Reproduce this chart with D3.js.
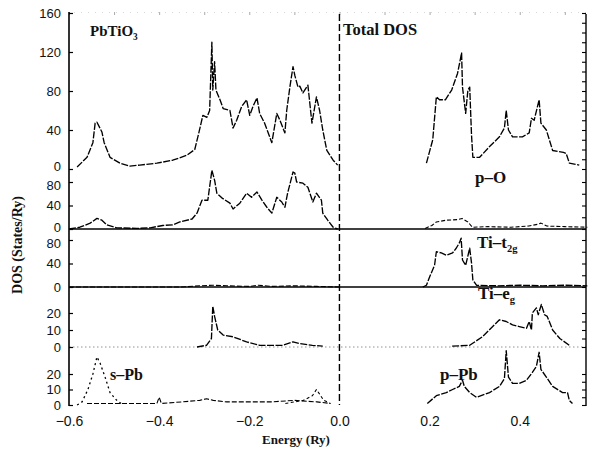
<!DOCTYPE html>
<html><head><meta charset="utf-8">
<script src="https://cdn.jsdelivr.net/npm/d3@7"></script>
<style>body{margin:0;background:#fff}</style>
</head><body>
<svg id="c" width="590" height="450"></svg>
<script>
// ---- data: [energy (Ry), DOS (States/Ry)] ----
const totalValence = [[-0.582,2],[-0.560,12],[-0.547,27],[-0.542,47],[-0.538,48],[-0.527,38],[-0.522,27],[-0.509,12],[-0.487,6],[-0.465,3],[-0.443,4],[-0.405,6],[-0.370,9],[-0.339,14],[-0.321,20],[-0.312,37],[-0.303,55],[-0.294,53],[-0.288,60],[-0.283,130],[-0.281,81],[-0.277,110],[-0.274,81],[-0.265,71],[-0.258,62],[-0.243,60],[-0.236,42],[-0.228,50],[-0.217,64],[-0.206,71],[-0.199,55],[-0.192,64],[-0.183,73],[-0.177,57],[-0.166,47],[-0.150,27],[-0.139,57],[-0.132,50],[-0.121,37],[-0.117,60],[-0.110,84],[-0.103,105],[-0.099,96],[-0.092,84],[-0.088,85],[-0.081,78],[-0.070,86],[-0.061,47],[-0.051,74],[-0.044,60],[-0.037,40],[-0.028,19],[-0.014,9],[-0.004,4]];
const totalConduction = [[0.193,6],[0.207,30],[0.215,74],[0.222,71],[0.235,71],[0.249,81],[0.262,98],[0.271,119],[0.273,84],[0.280,57],[0.285,81],[0.289,84],[0.293,35],[0.296,12],[0.311,12],[0.333,23],[0.355,33],[0.366,42],[0.370,60],[0.375,40],[0.384,33],[0.406,33],[0.421,37],[0.426,52],[0.432,50],[0.443,71],[0.447,47],[0.459,40],[0.473,19],[0.497,17],[0.503,16],[0.510,6],[0.532,4]];
const pOValence = [[-0.600,0],[-0.576,3],[-0.553,10],[-0.538,18],[-0.527,15],[-0.516,7],[-0.494,2],[-0.450,1],[-0.420,2],[-0.392,6],[-0.370,7],[-0.354,12],[-0.327,17],[-0.316,27],[-0.305,49],[-0.292,49],[-0.283,100],[-0.277,83],[-0.272,61],[-0.261,53],[-0.243,44],[-0.236,34],[-0.221,44],[-0.206,61],[-0.195,54],[-0.183,63],[-0.172,49],[-0.161,37],[-0.150,27],[-0.139,54],[-0.128,46],[-0.121,37],[-0.115,61],[-0.103,97],[-0.099,95],[-0.095,80],[-0.081,78],[-0.070,71],[-0.059,46],[-0.051,61],[-0.040,49],[-0.037,27],[-0.026,15],[-0.014,3],[-0.004,0]];
const pOConduction = [[0.190,1],[0.205,6],[0.215,12],[0.237,15],[0.262,16],[0.272,18],[0.285,12],[0.295,3],[0.330,4],[0.380,3],[0.420,5],[0.440,8],[0.447,10],[0.460,5],[0.500,4],[0.550,3]];
const t2gValence = [[-0.600,0],[-0.350,0],[-0.310,2],[-0.280,3],[-0.250,2],[-0.200,1],[-0.180,3],[-0.150,1],[-0.100,2],[-0.050,1],[0.000,0]];
const t2gConduction = [[0.185,0],[0.193,3],[0.200,17],[0.211,37],[0.215,60],[0.226,58],[0.237,54],[0.251,58],[0.259,66],[0.266,75],[0.270,83],[0.273,46],[0.280,37],[0.289,66],[0.293,41],[0.296,12],[0.304,3],[0.350,2],[0.400,3],[0.450,2],[0.500,3],[0.550,2]];
const egValence = [[-0.316,0],[-0.295,1],[-0.284,5],[-0.281,24],[-0.277,18],[-0.270,10],[-0.258,7],[-0.236,6],[-0.206,3],[-0.177,1],[-0.126,1],[-0.103,3],[-0.088,2],[-0.060,1],[-0.037,0.5]];
const egConduction = [[0.250,0.5],[0.289,1],[0.317,6],[0.340,12],[0.355,16],[0.370,15],[0.384,13],[0.399,12],[0.415,11],[0.421,15],[0.426,10],[0.428,20],[0.437,23],[0.441,19],[0.448,25],[0.455,19],[0.461,18],[0.473,10],[0.489,5],[0.510,1]];
const sPbPeak = [[-0.582,0],[-0.571,2],[-0.558,10],[-0.547,20],[-0.538,31],[-0.531,27],[-0.520,18],[-0.509,8],[-0.494,3],[-0.480,0]];
const sPbBump = [[-0.120,1],[-0.080,3],[-0.060,6],[-0.051,10],[-0.044,7],[-0.035,3],[-0.020,1]];
const pPbValence = [[-0.560,1],[-0.500,1],[-0.450,1],[-0.405,1],[-0.400,5],[-0.395,1],[-0.350,2],[-0.310,3],[-0.295,4],[-0.280,3],[-0.250,2],[-0.200,2],[-0.150,2],[-0.100,3],[-0.050,2],[-0.020,1]];
const pPbConduction = [[0.195,1],[0.215,6],[0.237,8],[0.251,10],[0.266,12],[0.273,16],[0.277,12],[0.289,8],[0.304,5],[0.333,8],[0.355,12],[0.366,17],[0.370,35],[0.375,18],[0.384,14],[0.399,14],[0.415,16],[0.428,21],[0.437,25],[0.443,34],[0.447,23],[0.459,18],[0.473,12],[0.495,8],[0.506,8],[0.510,3],[0.517,1]];

const xTicks = [-0.6,-0.4,-0.2,0.0,0.2,0.4];
const totalTicks = [0,40,80,120,160];
const pOTicks = [0,40,80];
const t2gTicks = [0,40,80];
const egTicks = [0,10,20];
const pbTicks = [0,10,20];

// ---- layout ----
const svg = d3.select("#c");
const L = 69, R = 586, T = 12, B = 405;
const x = d3.scaleLinear().domain([-0.6, 0.547]).range([L, R]);

const panels = {
  total: d3.scaleLinear().domain([0,160]).range([169,13]),
  pO:    d3.scaleLinear().domain([0,80]).range([229,182]),
  t2g:   d3.scaleLinear().domain([0,80]).range([287,240]),
  eg:    d3.scaleLinear().domain([0,20]).range([347,313]),
  pb:    d3.scaleLinear().domain([0,20]).range([405,374])
};
const tickSets = {total: totalTicks, pO: pOTicks, t2g: t2gTicks, eg: egTicks, pb: pbTicks};
const minorStep = {total: 10, pO: 20, t2g: 20, eg: 5, pb: 5};
// small label nudges where stacked panel labels touch (top label up, lower-panel top label down)
const nudge = {total: {0: -3}, pO: {80: 3, 0: -2}, t2g: {80: 3}, eg: {}, pb: {}};

const tickFont = "'Liberation Sans', Arial, sans-serif";
const serif = "'Liberation Serif', 'Times New Roman', serif";

// top border ticks (faint)
svg.append("g").attr("transform", `translate(0,${T})`)
  .call(d3.axisBottom(x).tickValues(d3.range(-0.6, 0.55, 0.1)).tickSize(3).tickFormat(""))
  .call(g => { g.select(".domain").attr("stroke", "#d8d8d8").attr("stroke-dasharray", "1,6"); g.selectAll("line").attr("stroke", "#aaa"); });

// panel zero lines
svg.append("line").attr("x1", L).attr("x2", R).attr("y1", panels.pO(0)).attr("y2", panels.pO(0))
  .attr("stroke", "#000").attr("stroke-width", 1.5);
svg.append("line").attr("x1", L).attr("x2", R).attr("y1", panels.t2g(0)).attr("y2", panels.t2g(0))
  .attr("stroke", "#000").attr("stroke-width", 1.5);
svg.append("line").attr("x1", L).attr("x2", R).attr("y1", panels.eg(0)).attr("y2", panels.eg(0))
  .attr("stroke", "#777").attr("stroke-width", 0.8).attr("stroke-dasharray", "1.5,2.5");

// left axes
Object.keys(panels).forEach(k => {
  const ax = d3.axisLeft(panels[k]).tickValues(tickSets[k]).tickSizeInner(-4).tickSizeOuter(0).tickPadding(8).tickFormat(d3.format("d"));
  svg.append("g").attr("transform", `translate(${L},0)`).call(ax)
    .call(g => {
      g.select(".domain").remove();
      g.selectAll("text").attr("font-family", tickFont).attr("font-size", 13).attr("fill", "#111")
        .attr("dy", d => (0.32 * 13 + (nudge[k][d] || 0)) + "px");
      g.selectAll("line").attr("stroke-width", 1.2);
    });
  const d = panels[k].domain();
  const ar = d3.axisRight(panels[k]).tickValues(d3.range(d[0], d[1] + 0.001, minorStep[k])).tickSizeInner(-4).tickSizeOuter(0).tickFormat("");
  svg.append("g").attr("transform", `translate(${R},0)`).call(ar)
    .call(g => { g.select(".domain").remove(); g.selectAll("line").attr("stroke-width", 1.1); });
});
svg.append("line").attr("x1", L).attr("x2", L).attr("y1", T).attr("y2", B + 1).attr("stroke", "#000").attr("stroke-width", 1.6);
svg.append("line").attr("x1", R).attr("x2", R).attr("y1", T + 2).attr("y2", B + 1).attr("stroke", "#000").attr("stroke-width", 1.4);

// bottom axis (labels only)
svg.append("g").attr("transform", `translate(0,${B})`)
  .call(d3.axisBottom(x).tickValues(xTicks).tickSizeInner(0).tickSizeOuter(0).tickPadding(11)
    .tickFormat(d => d3.format(".1f")(d).replace("-", "\u2212")))
  .call(g => { g.select(".domain").remove(); g.selectAll("text").attr("font-family", tickFont).attr("font-size", 14).attr("fill", "#111"); });

// Fermi level
svg.append("line").attr("x1", x(0)).attr("x2", x(0)).attr("y1", T + 2).attr("y2", B)
  .attr("stroke", "#000").attr("stroke-width", 1.4).attr("stroke-dasharray", "7,3");

// curves
function curve(data, yScale, dash, width) {
  const line = d3.line().x(d => x(d[0])).y(d => yScale(d[1]));
  svg.append("path").datum(data).attr("d", line).attr("fill", "none")
    .attr("stroke", "#000").attr("stroke-width", width || 1.35)
    .attr("stroke-dasharray", dash || "7,1.5").attr("stroke-linejoin", "round");
}
curve(totalValence, panels.total);
curve(totalConduction, panels.total);
curve(pOValence, panels.pO);
curve(pOConduction, panels.pO, "4,2", 1.1);
curve(t2gValence, panels.t2g, "5,2", 1.1);
curve(t2gConduction, panels.t2g);
curve(egValence, panels.eg);
curve(egConduction, panels.eg);
curve(sPbPeak, panels.pb, "2,3", 1.3);
curve(sPbBump, panels.pb, "3,2.5", 1.1);
curve(pPbValence, panels.pb, "5,2", 1.1);
curve(pPbConduction, panels.pb);

// panel labels
function label(xp, yp, parts, size) {
  const t = svg.append("text").attr("x", xp).attr("y", yp).attr("font-family", serif)
    .attr("font-weight", "bold").attr("font-size", size).attr("fill", "#111");
  parts.forEach(p => {
    const s = t.append("tspan").text(p[0]);
    if (p[1]) s.attr("font-size", size * 0.62).attr("dy", size * 0.25);
  });
}
label(90, 36, [["PbTiO"], ["3", true]], 15);
label(343, 35, [["Total DOS"]], 16.5);
label(475, 183, [["p\u2013O"]], 17);
label(477, 248, [["Ti\u2013t"], ["2g", true]], 17);
label(478, 299, [["Ti\u2013e"], ["g", true]], 17);
label(110, 380, [["s\u2013Pb"]], 16);
label(440, 380, [["p\u2013Pb"]], 17);

// axis titles
svg.append("text").attr("transform", "translate(22,245) rotate(-90)").attr("text-anchor", "middle")
  .attr("font-family", serif).attr("font-weight", "bold").attr("font-size", 14).attr("fill", "#111")
  .text("DOS (States/Ry)");
svg.append("text").attr("x", 296).attr("y", 444).attr("text-anchor", "middle")
  .attr("font-family", serif).attr("font-weight", "bold").attr("font-size", 13).attr("fill", "#111")
  .text("Energy (Ry)");
</script>
</body></html>
